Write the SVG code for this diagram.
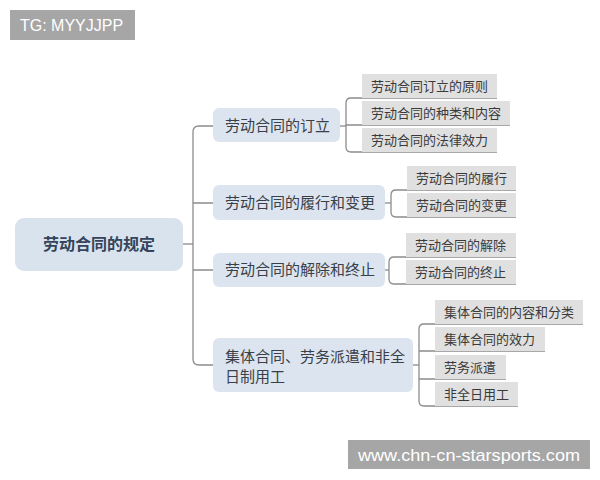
<svg xmlns="http://www.w3.org/2000/svg" width="600" height="480" viewBox="0 0 600 480">
<style>
.lbl{fill:#a6a6a6}
.lt{font-family:"Liberation Sans",Arial,sans-serif;fill:#ffffff}
.root{fill:#d9e3ee}
.rt{font-family:"Noto Sans CJK SC",sans-serif;font-size:16px;font-weight:bold;fill:#34445a}
.n1{fill:#dce5ef}
.t1{font-family:"Noto Sans CJK SC",sans-serif;font-size:15px;fill:#3a4048}
.n2{fill:#e0e0e0}
.t2{font-family:"Noto Sans CJK SC",sans-serif;font-size:13px;fill:#3a3a3a}
.c{fill:none;stroke:#8c8c8c;stroke-width:1.3}
</style>
<rect width="600" height="480" fill="#ffffff"/>
<g id="label-top">
<rect class="lbl" x="10" y="10" width="125" height="30"/>
<text class="lt" x="20" y="31" font-size="16">TG: MYYJJPP</text>
</g>
<g id="connectors">
<path class="c" d="M183,244 H193"/>
<path class="c" d="M213,126 H199 Q193,126 193,132 V359 Q193,365 199,365 H213"/>
<path class="c" d="M193,203 H213 M193,270 H213"/>
<path class="c" d="M340,126 H346"/>
<path class="c" d="M497,98 H351 Q346,98 346,103 V147 Q346,152 351,152 H497 M346,125 H510"/>
<path class="c" d="M385,203 H391"/>
<path class="c" d="M516,190 H396 Q391,190 391,195 V212 Q391,217 396,217 H516"/>
<path class="c" d="M385,270 H389"/>
<path class="c" d="M516,257 H394 Q389,257 389,262 V279 Q389,284 394,284 H516"/>
<path class="c" d="M413,365 H419"/>
<path class="c" d="M583,324 H424 Q419,324 419,329 V401 Q419,406 424,406 H518 M419,351 H545 M419,379 H506"/>
</g>
<g id="root">
<rect class="root" x="15" y="218" width="168" height="53" rx="9"/>
<text class="rt" x="99" y="250" text-anchor="middle">劳动合同的规定</text>
</g>
<g id="n1">
<rect class="n1" x="213" y="108" width="127" height="34" rx="6"/>
<text class="t1" x="225" y="131">劳动合同的订立</text>
</g>
<g id="n2">
<rect class="n1" x="213" y="185" width="172" height="35" rx="6"/>
<text class="t1" x="225" y="208">劳动合同的履行和变更</text>
</g>
<g id="n3">
<rect class="n1" x="213" y="253" width="172" height="34" rx="6"/>
<text class="t1" x="225" y="275">劳动合同的解除和终止</text>
</g>
<g id="n4">
<rect class="n1" x="213" y="338" width="200" height="54" rx="6"/>
<text class="t1" x="225" y="362">集体合同、劳务派遣和非全</text>
<text class="t1" x="225" y="382">日制用工</text>
</g>
<g id="n1a"><rect class="n2" x="362" y="74" width="135" height="24"/><text class="t2" x="371" y="91">劳动合同订立的原则</text></g>
<g id="n1b"><rect class="n2" x="362" y="101" width="148" height="24"/><text class="t2" x="371" y="118">劳动合同的种类和内容</text></g>
<g id="n1c"><rect class="n2" x="362" y="128" width="135" height="24"/><text class="t2" x="371" y="145">劳动合同的法律效力</text></g>
<g id="n2a"><rect class="n2" x="407" y="166" width="109" height="24"/><text class="t2" x="416" y="183">劳动合同的履行</text></g>
<g id="n2b"><rect class="n2" x="407" y="193" width="109" height="24"/><text class="t2" x="416" y="210">劳动合同的变更</text></g>
<g id="n3a"><rect class="n2" x="406" y="233" width="110" height="24"/><text class="t2" x="415" y="250">劳动合同的解除</text></g>
<g id="n3b"><rect class="n2" x="406" y="260" width="110" height="24"/><text class="t2" x="415" y="277">劳动合同的终止</text></g>
<g id="n4a"><rect class="n2" x="435" y="300" width="148" height="24"/><text class="t2" x="444" y="317">集体合同的内容和分类</text></g>
<g id="n4b"><rect class="n2" x="435" y="327" width="110" height="24"/><text class="t2" x="444" y="344">集体合同的效力</text></g>
<g id="n4c"><rect class="n2" x="435" y="355" width="71" height="24"/><text class="t2" x="444" y="372">劳务派遣</text></g>
<g id="n4d"><rect class="n2" x="435" y="382" width="83" height="24"/><text class="t2" x="444" y="399">非全日用工</text></g>
<g id="label-bottom">
<rect class="lbl" x="348" y="440" width="242" height="29"/>
<text class="lt" x="358" y="461" font-size="17" textLength="222" lengthAdjust="spacingAndGlyphs">www.chn-cn-starsports.com</text>
</g>
</svg>
